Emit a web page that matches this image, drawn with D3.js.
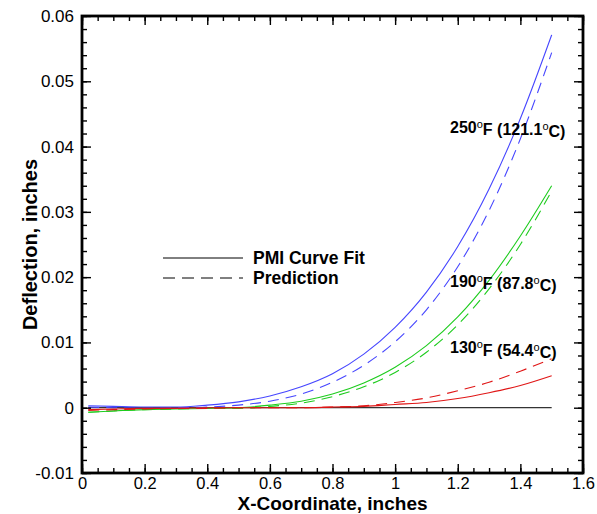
<!DOCTYPE html>
<html>
<head>
<meta charset="utf-8">
<script src="https://cdn.jsdelivr.net/npm/d3@7"></script>
<style>
  body { margin: 0; background: #fff; }
  svg text { font-family: Arial, "Liberation Sans", sans-serif; }
</style>
</head>
<body>
<div id="chart"></div>
<script>
let xs = [0.02, 0.1, 0.2, 0.3, 0.4, 0.5, 0.6, 0.7, 0.8, 0.9, 1.0, 1.1, 1.2, 1.3, 1.4, 1.5]

// 250F (121.1C)
let fit250 = [0.0003, 0.0002, 0.0001, 0.0001, 0.0004, 0.0009, 0.0018, 0.0032, 0.0052, 0.0082, 0.0123, 0.0177, 0.0247, 0.0335, 0.0443, 0.0571]
let pred250 = [0.0001, 0.0000, -0.0001, 0.0000, 0.0001, 0.0004, 0.0010, 0.0021, 0.0039, 0.0065, 0.0101, 0.0150, 0.0216, 0.0302, 0.0412, 0.0544]
// 190F (87.8C)
let fit190 = [-0.0007, -0.0005, -0.0003, -0.0002, -0.0001, 0.0000, 0.0004, 0.0010, 0.0021, 0.0038, 0.0062, 0.0095, 0.0139, 0.0195, 0.0263, 0.0340]
let pred190 = [-0.0007, -0.0005, -0.0003, -0.0002, -0.0001, -0.0001, 0.0002, 0.0007, 0.0017, 0.0032, 0.0054, 0.0085, 0.0127, 0.0182, 0.0250, 0.0332]
// 130F (54.4C)
let fit130 = [-0.0003, -0.0002, -0.0001, -0.0001, 0.0000, 0.0000, 0.0000, 0.0000, 0.0001, 0.0002, 0.0005, 0.0008, 0.0014, 0.0023, 0.0034, 0.0049]
let pred130 = [-0.0004, -0.0003, -0.0002, -0.0001, -0.0001, 0.0000, 0.0000, 0.0000, 0.0001, 0.0003, 0.0008, 0.0015, 0.0026, 0.0039, 0.0056, 0.0075]

let seriesColors = ["#4646ff", "#1ecc1e", "#e01616"]
let labels = ["250", "190", "130"]
let labelC = ["121.1", "87.8", "54.4"]
let labelY = [0.0430, 0.0194, 0.0092]

let xTicks = [0, 0.2, 0.4, 0.6, 0.8, 1, 1.2, 1.4, 1.6]
let yTicks = [-0.01, 0, 0.01, 0.02, 0.03, 0.04, 0.05, 0.06]
let legendNames = ["PMI Curve Fit", "Prediction"]

var width = 597, height = 514
var margin = { top: 16, right: 14, bottom: 41, left: 82 }

var svg = d3.select("#chart")
    .append("svg")
    .attr("width", width)
    .attr("height", height)

var x = d3.scaleLinear().domain([0, 1.6]).range([margin.left, width - margin.right])
var y = d3.scaleLinear().domain([-0.01, 0.06]).range([height - margin.bottom, margin.top])

var minorX = d3.range(0, 1.6001, 0.05)
var minorY = d3.range(-0.01, 0.06001, 0.002)

// zero line
svg.append("line")
    .attr("x1", x(0.02)).attr("x2", x(1.5))
    .attr("y1", y(0)).attr("y2", y(0))
    .attr("stroke", "#000").attr("stroke-width", 1)

var line = d3.line()
    .x((d, i) => x(xs[i]))
    .y(d => y(d))
    .curve(d3.curveMonotoneX)

var fits = [fit250, fit190, fit130]
var preds = [pred250, pred190, pred130]

fits.forEach((s, i) => {
    svg.append("path")
        .attr("d", line(s))
        .attr("fill", "none")
        .attr("stroke", seriesColors[i])
        .attr("stroke-width", 1.1)
    svg.append("path")
        .attr("d", line(preds[i]))
        .attr("fill", "none")
        .attr("stroke", seriesColors[i])
        .attr("stroke-width", 1.1)
        .attr("stroke-dasharray", "11,7")
})

// axes
var fmtX = d => String(+d.toFixed(1))
var fmtY = d => Math.abs(d) < 1e-9 ? "0" : d.toFixed(2)

function axisStyle(g) {
    g.select(".domain").remove()
    g.selectAll("line").attr("stroke", "#000").attr("stroke-width", 1.4)
    g.selectAll("text").style("font-size", "17px").attr("fill", "#000")
}

svg.append("g")
    .attr("transform", "translate(0," + y(-0.01) + ")")
    .call(d3.axisBottom(x).tickValues(xTicks).tickFormat(fmtX).tickSize(-9).tickPadding(4))
    .call(axisStyle)
    .call(g => g.selectAll("text").style("font-size", "16.5px"))
svg.append("g")
    .attr("transform", "translate(0," + y(-0.01) + ")")
    .call(d3.axisBottom(x).tickValues(minorX).tickFormat("").tickSize(-5))
    .call(axisStyle)
svg.append("g")
    .attr("transform", "translate(0," + y(0.06) + ")")
    .call(d3.axisTop(x).tickValues(xTicks).tickFormat("").tickSize(-9))
    .call(axisStyle)
svg.append("g")
    .attr("transform", "translate(0," + y(0.06) + ")")
    .call(d3.axisTop(x).tickValues(minorX).tickFormat("").tickSize(-5))
    .call(axisStyle)

svg.append("g")
    .attr("transform", "translate(" + x(0) + ",0)")
    .call(d3.axisLeft(y).tickValues(yTicks).tickFormat(fmtY).tickSize(-9).tickPadding(8))
    .call(axisStyle)
svg.append("g")
    .attr("transform", "translate(" + x(0) + ",0)")
    .call(d3.axisLeft(y).tickValues(minorY).tickFormat("").tickSize(-5))
    .call(axisStyle)
svg.append("g")
    .attr("transform", "translate(" + x(1.6) + ",0)")
    .call(d3.axisRight(y).tickValues(yTicks).tickFormat("").tickSize(-9))
    .call(axisStyle)
svg.append("g")
    .attr("transform", "translate(" + x(1.6) + ",0)")
    .call(d3.axisRight(y).tickValues(minorY).tickFormat("").tickSize(-5))
    .call(axisStyle)

// frame
svg.append("rect")
    .attr("x", x(0)).attr("y", y(0.06))
    .attr("width", x(1.6) - x(0)).attr("height", y(-0.01) - y(0.06))
    .attr("fill", "none").attr("stroke", "#000").attr("stroke-width", 2.8)

// axis titles
svg.append("text")
    .attr("x", (x(0) + x(1.6)) / 2)
    .attr("y", 510)
    .attr("text-anchor", "middle")
    .style("font-size", "19px").style("font-weight", "bold")
    .text("X-Coordinate, inches")

svg.append("text")
    .attr("transform", "translate(37," + ((y(-0.01) + y(0.06)) / 2) + ") rotate(-90)")
    .attr("text-anchor", "middle")
    .style("font-size", "20px").style("font-weight", "bold")
    .text("Deflection, inches")

// temperature labels
labels.forEach((t, i) => {
    var tx = svg.append("text")
        .attr("x", 450).attr("y", y(labelY[i]))
        .attr("dy", "0.35em")
        .style("font-size", "16px").style("font-weight", "bold")
    tx.append("tspan").text(t)
    tx.append("tspan").attr("dy", "-0.45em").style("font-size", "11px").style("font-weight", "normal").text("o")
    tx.append("tspan").attr("dy", "0.45em").text("F (" + labelC[i])
    tx.append("tspan").attr("dy", "-0.45em").style("font-size", "11px").style("font-weight", "normal").text("o")
    tx.append("tspan").attr("dy", "0.45em").text("C)")
})

// legend
legendNames.forEach((name, i) => {
    var ly = 258 + i * 20
    svg.append("line")
        .attr("x1", 163).attr("x2", 243)
        .attr("y1", ly).attr("y2", ly)
        .attr("stroke", "#000").attr("stroke-width", 1)
        .attr("stroke-dasharray", i == 1 ? "12,7" : null)
    svg.append("text")
        .attr("x", 253).attr("y", ly)
        .attr("dy", "0.35em")
        .style("font-size", "17.5px").style("font-weight", "bold")
        .text(name)
})
</script>
</body>
</html>
